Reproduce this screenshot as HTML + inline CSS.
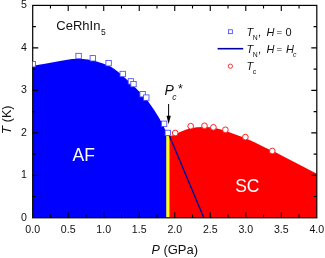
<!DOCTYPE html>
<html><head><meta charset="utf-8"><style>
html,body{margin:0;padding:0;background:#fff;}
body{width:325px;height:258px;overflow:hidden;font-family:"Liberation Sans",sans-serif;}
svg{display:block;will-change:transform}
text{font-family:"Liberation Sans",sans-serif;fill:#111}
</style></head><body>
<svg width="325" height="258" viewBox="0 0 325 258">
<rect width="325" height="258" fill="#fff"/>
<defs><clipPath id="cp"><rect x="32.7" y="5.4" width="284.1" height="212.4"/></clipPath></defs>
<polygon fill="#0000ff" points="32.7,217.8 32.7,65.8 45.0,63.8 60.0,61.0 72.0,59.1 80.0,58.7 88.0,59.6 95.0,61.0 103.0,63.4 110.0,66.2 114.0,68.7 118.0,71.7 124.0,77.0 130.0,82.4 136.0,88.2 142.0,94.4 148.0,101.2 154.0,109.8 159.0,117.7 163.0,125.0 166.6,133.0 166.6,217.8"/>
<polygon fill="#ff0000" points="169.2,217.8 169.2,136.3 172.0,135.6 175.0,134.5 180.0,132.0 185.0,130.0 190.0,128.3 197.0,127.3 204.0,126.9 210.0,127.3 216.0,128.2 222.0,129.8 228.0,131.8 236.0,134.7 244.5,137.7 255.0,142.6 265.0,147.4 272.4,151.0 275.0,152.1 285.0,157.3 300.0,165.0 316.8,173.7 316.8,217.8"/>
<rect x="166.4" y="135" width="2.9" height="82.8" fill="#ffff00"/>
<line x1="169.3" y1="135.5" x2="203.8" y2="217.8" stroke="#00009c" stroke-width="1.4"/>
<rect x="32.7" y="5.4" width="284.1" height="212.4" fill="none" stroke="#000" stroke-width="1.2"/>
<path d="M50.46 217.8v-3.2M50.46 5.4v3.2M68.21 217.8v-5.5M68.21 5.4v5.5M85.97 217.8v-3.2M85.97 5.4v3.2M103.73 217.8v-5.5M103.73 5.4v5.5M121.48 217.8v-3.2M121.48 5.4v3.2M139.24 217.8v-5.5M139.24 5.4v5.5M156.99 217.8v-3.2M156.99 5.4v3.2M174.75 217.8v-5.5M174.75 5.4v5.5M192.51 217.8v-3.2M192.51 5.4v3.2M210.26 217.8v-5.5M210.26 5.4v5.5M228.02 217.8v-3.2M228.02 5.4v3.2M245.78 217.8v-5.5M245.78 5.4v5.5M263.53 217.8v-3.2M263.53 5.4v3.2M281.29 217.8v-5.5M281.29 5.4v5.5M299.04 217.8v-3.2M299.04 5.4v3.2M32.7 196.56h3.2M316.8 196.56h-3.2M32.7 175.32h5.5M316.8 175.32h-5.5M32.7 154.08h3.2M316.8 154.08h-3.2M32.7 132.84h5.5M316.8 132.84h-5.5M32.7 111.60h3.2M316.8 111.60h-3.2M32.7 90.36h5.5M316.8 90.36h-5.5M32.7 69.12h3.2M316.8 69.12h-3.2M32.7 47.88h5.5M316.8 47.88h-5.5M32.7 26.64h3.2M316.8 26.64h-3.2" stroke="#000" stroke-width="1.1" fill="none"/>
<text x="32.7" y="232.6" font-size="10.6" text-anchor="middle">0.0</text>
<text x="68.2" y="232.6" font-size="10.6" text-anchor="middle">0.5</text>
<text x="103.7" y="232.6" font-size="10.6" text-anchor="middle">1.0</text>
<text x="139.2" y="232.6" font-size="10.6" text-anchor="middle">1.5</text>
<text x="174.8" y="232.6" font-size="10.6" text-anchor="middle">2.0</text>
<text x="210.3" y="232.6" font-size="10.6" text-anchor="middle">2.5</text>
<text x="245.8" y="232.6" font-size="10.6" text-anchor="middle">3.0</text>
<text x="281.3" y="232.6" font-size="10.6" text-anchor="middle">3.5</text>
<text x="316.8" y="232.6" font-size="10.6" text-anchor="middle">4.0</text>
<text x="26.8" y="220.7" font-size="10.6" text-anchor="end">0</text>
<text x="26.8" y="178.2" font-size="10.6" text-anchor="end">1</text>
<text x="26.8" y="135.7" font-size="10.6" text-anchor="end">2</text>
<text x="26.8" y="93.3" font-size="10.6" text-anchor="end">3</text>
<text x="26.8" y="50.8" font-size="10.6" text-anchor="end">4</text>
<text x="26.8" y="8.3" font-size="10.6" text-anchor="end">5</text>
<text x="151.5" y="254" font-size="12.5" font-style="italic">P</text><text x="163.4" y="254" font-size="13">(GPa)</text>
<g transform="translate(11.3,134.2) rotate(-90)"><text x="0" y="0" font-size="13.5" font-style="italic">T</text><text x="12" y="0" font-size="12.5">(K)</text></g>
<text x="56.3" y="30.2" font-size="13">CeRhIn<tspan font-size="8.5" dy="4.8" dx="0.7">5</tspan></text>
<text x="72.6" y="160.9" font-size="17.5" style="fill:#fff">AF</text>
<text x="235.2" y="191.6" font-size="17.5" style="fill:#fff">SC</text>
<text x="164.6" y="95.1" font-size="14" font-style="italic">P<tspan font-size="8.5" dy="5.3" dx="-1.6">c</tspan></text><text x="177.9" y="93.2" font-size="12.3">*</text>
<path d="M168.6 104V118" stroke="#000" stroke-width="1"/><path d="M166.5 115.8L170.8 115.8L168.65 124.3Z" fill="#000"/>
<rect x="30.1" y="61.5" width="5.4" height="5.4" fill="#fff" stroke="#4040ff" stroke-width="0.8" clip-path="url(#cp)"/>
<rect x="75.9" y="53.3" width="5.4" height="5.4" fill="#fff" stroke="#4040ff" stroke-width="0.8" clip-path="url(#cp)"/>
<rect x="90.1" y="55.6" width="5.4" height="5.4" fill="#fff" stroke="#4040ff" stroke-width="0.8" clip-path="url(#cp)"/>
<rect x="105.9" y="60.5" width="5.4" height="5.4" fill="#fff" stroke="#4040ff" stroke-width="0.8" clip-path="url(#cp)"/>
<rect x="120.0" y="71.3" width="5.4" height="5.4" fill="#fff" stroke="#4040ff" stroke-width="0.8" clip-path="url(#cp)"/>
<rect x="128.2" y="78.7" width="5.4" height="5.4" fill="#fff" stroke="#4040ff" stroke-width="0.8" clip-path="url(#cp)"/>
<rect x="130.8" y="81.4" width="5.4" height="5.4" fill="#fff" stroke="#4040ff" stroke-width="0.8" clip-path="url(#cp)"/>
<rect x="139.9" y="91.5" width="5.4" height="5.4" fill="#fff" stroke="#4040ff" stroke-width="0.8" clip-path="url(#cp)"/>
<rect x="143.6" y="94.9" width="5.4" height="5.4" fill="#fff" stroke="#4040ff" stroke-width="0.8" clip-path="url(#cp)"/>
<rect x="161.4" y="121.1" width="5.4" height="5.4" fill="#fff" stroke="#4040ff" stroke-width="0.8" clip-path="url(#cp)"/>
<rect x="165.1" y="130.2" width="5.4" height="5.4" fill="#fff" stroke="#4040ff" stroke-width="0.8" clip-path="url(#cp)"/>
<circle cx="175.2" cy="133.0" r="2.85" fill="#fff" stroke="#ff1818" stroke-width="0.95"/>
<circle cx="190.7" cy="126.2" r="2.85" fill="#fff" stroke="#ff1818" stroke-width="0.95"/>
<circle cx="204.5" cy="125.8" r="2.85" fill="#fff" stroke="#ff1818" stroke-width="0.95"/>
<circle cx="213.4" cy="127.3" r="2.85" fill="#fff" stroke="#ff1818" stroke-width="0.95"/>
<circle cx="225.4" cy="129.8" r="2.85" fill="#fff" stroke="#ff1818" stroke-width="0.95"/>
<circle cx="245.4" cy="137.1" r="2.85" fill="#fff" stroke="#ff1818" stroke-width="0.95"/>
<circle cx="272.3" cy="151.0" r="2.85" fill="#fff" stroke="#ff1818" stroke-width="0.95"/>
<rect x="228.45" y="29.75" width="3.9" height="3.9" fill="#fff" stroke="#4040ff" stroke-width="0.8"/>
<line x1="217.6" y1="48.7" x2="243.2" y2="48.7" stroke="#0000a0" stroke-width="1.6"/>
<circle cx="230.4" cy="66.2" r="2.15" fill="#fff" stroke="#ff2020" stroke-width="0.9"/>
<text x="246.4" y="35.5" font-size="11"><tspan font-style="italic">T</tspan><tspan font-size="6.8" dy="4.2" dx="-0.4">N</tspan><tspan dy="-4.2" dx="0.4">,</tspan></text>
<text x="266.5" y="35.5" font-size="11" font-style="italic">H</text>
<text x="276.6" y="35.1" font-size="9.6">=</text>
<text x="285.6" y="35.5" font-size="11">0</text>
<text x="246.4" y="52.6" font-size="11"><tspan font-style="italic">T</tspan><tspan font-size="6.8" dy="4.2" dx="-0.4">N</tspan><tspan dy="-4.2" dx="0.4">,</tspan></text>
<text x="266.5" y="52.6" font-size="11" font-style="italic">H</text>
<text x="276.6" y="52.2" font-size="9.6">=</text>
<text x="285.9" y="52.6" font-size="11" font-style="italic">H<tspan font-size="6.8" dy="4.2" dx="-0.9">c</tspan></text>
<text x="246.4" y="69.9" font-size="11"><tspan font-style="italic">T</tspan><tspan font-size="6.8" dy="4.2" dx="-0.4">c</tspan></text>
</svg></body></html>
